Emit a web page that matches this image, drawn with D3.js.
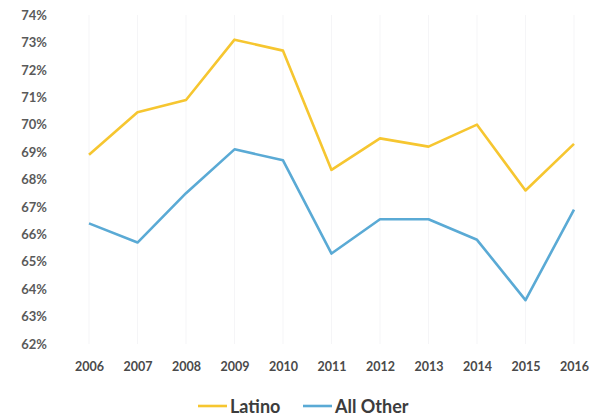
<!DOCTYPE html>
<html><head><meta charset="utf-8">
<script src="https://cdn.jsdelivr.net/npm/d3@7"></script>
<style>body{margin:0;background:#fff;}svg{display:block;}</style>
</head><body>
<script>
const years = ["2006","2007","2008","2009","2010","2011","2012","2013","2014","2015","2016"];
const latino = [68.9,70.45,70.9,73.1,72.7,68.35,69.5,69.2,70.0,67.6,69.3];
const allOther = [66.4,65.7,67.5,69.1,68.7,65.3,66.55,66.55,65.8,63.6,66.9];
const yTicks = [62,63,64,65,66,67,68,69,70,71,72,73,74];
const seriesNames = ["Latino","All Other"];
const colors = ["#F6C630","#5AAAD5"];

const W=600,H=415;
const svg=d3.select("body").append("svg").attr("width",W).attr("height",H);
const x=d3.scalePoint().domain(years).range([89,574]);
const y=d3.scaleLinear().domain([62,74]).range([344,15]);

// faint vertical grid
svg.append("g").selectAll("line").data(years).join("line")
  .attr("x1",d=>x(d)).attr("x2",d=>x(d)).attr("y1",y(74)).attr("y2",y(62))
  .attr("stroke","#f5f5f7").attr("stroke-width",1);

const yAxis=svg.append("g").attr("transform","translate(47,0)")
  .call(d3.axisLeft(y).tickValues(yTicks).tickSize(0).tickPadding(0).tickFormat(d=>d+"%"));
yAxis.select(".domain").remove();
yAxis.selectAll("text").attr("font-family","Lato").attr("font-weight","bold")
  .attr("font-size","13px").attr("fill","#5a5a5a");

const xAxis=svg.append("g").attr("transform","translate(0,362)")
  .call(d3.axisBottom(x).tickSize(0).tickPadding(0));
xAxis.select(".domain").remove();
xAxis.selectAll("text").attr("font-family","Lato").attr("font-weight","bold")
  .attr("font-size","12.5px").attr("fill","#4a4a4a");

const line=d3.line().x((d,i)=>x(years[i])).y(d=>y(d));
[latino,allOther].forEach((s,k)=>{
  svg.append("path").datum(s).attr("d",line).attr("fill","none")
    .attr("stroke",colors[k]).attr("stroke-width",2.6).attr("stroke-linejoin","round");
});

// legend
const leg=[{x:198},{x:303}];
seriesNames.forEach((n,k)=>{
  const g=svg.append("g").attr("transform",`translate(${leg[k].x},406)`);
  g.append("line").attr("x1",0).attr("x2",29).attr("y1",0).attr("y2",0)
    .attr("stroke",colors[k]).attr("stroke-width",2.6);
  g.append("text").attr("x",32).attr("y",6.5).text(n)
    .attr("font-family","Lato").attr("font-weight","bold").attr("font-size","18px").attr("fill","#3c3c3c");
});
</script>
</body></html>
